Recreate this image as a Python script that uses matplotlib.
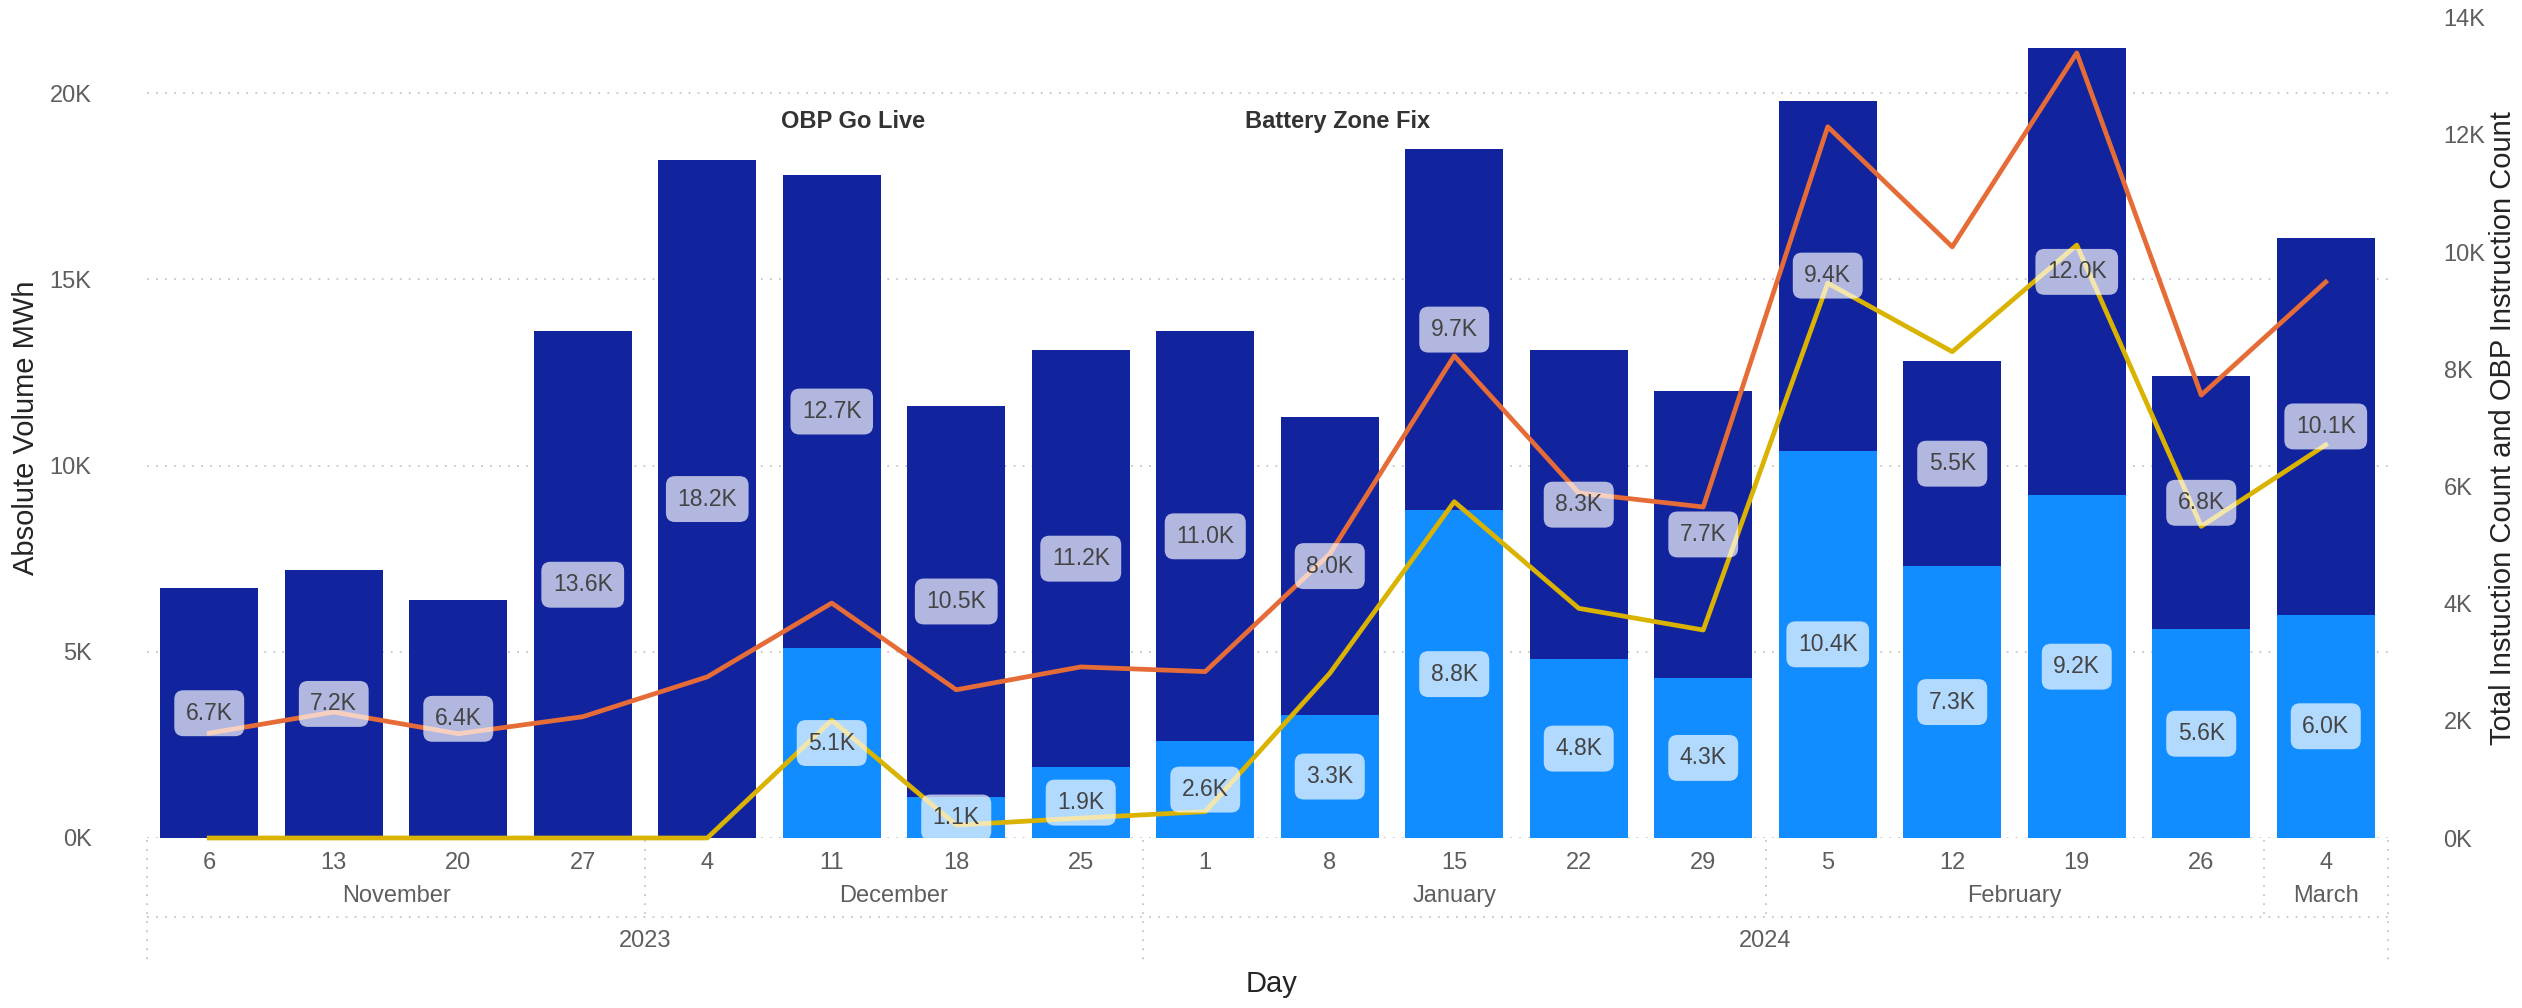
import matplotlib
matplotlib.use("Agg")
import matplotlib.pyplot as plt
import matplotlib.transforms as mtransforms

# Weekly data (thousands)
days = ['6', '13', '20', '27', '4', '11', '18', '25', '1', '8', '15', '22', '29', '5', '12', '19', '26', '4']
months = ['November', 'December', 'January', 'February', 'March']
month_spans = [(0, 3), (4, 7), (8, 12), (13, 16), (17, 17)]
years = ['2023', '2024']
year_spans = [(0, 7), (8, 17)]

# Absolute Volume MWh: OBP part (light) and the rest (dark), in K
obp_volume = [0, 0, 0, 0, 0, 5.1, 1.1, 1.9, 2.6, 3.3, 8.8, 4.8, 4.3, 10.4, 7.3, 9.2, 5.6, 6.0]
other_volume = [6.7, 7.2, 6.4, 13.6, 18.2, 12.7, 10.5, 11.2, 11.0, 8.0, 9.7, 8.3, 7.7, 9.4, 5.5, 12.0, 6.8, 10.1]

# Instruction counts (right axis), in K
total_instr = [1.79, 2.15, 1.78, 2.07, 2.75, 4.01, 2.53, 2.92, 2.84, 4.85, 8.23, 5.89, 5.65, 12.14, 10.09, 13.40, 7.56, 9.49]
obp_instr = [0, 0, 0, 0, 0, 2.01, 0.22, 0.34, 0.45, 2.81, 5.74, 3.92, 3.55, 9.47, 8.30, 10.12, 5.32, 6.71]

events = [('OBP Go Live', 5.17), ('Battery Zone Fix', 9.06)]

# Colours
dark_blue = '#12239E'
light_blue = '#118DFF'
orange = '#E66C37'
yellow = '#D9B300'
grid_col = '#C8C6C4'
tick_col = '#605E5C'
title_col = '#252423'

W, H = 2522, 1008
fig = plt.figure(figsize=(W / 100, H / 100), dpi=100)
ax_left, ax_right, ax_top, ax_bottom = 147, 2388, 16, 838
ax = fig.add_axes([ax_left / W, 1 - ax_bottom / H, (ax_right - ax_left) / W, (ax_bottom - ax_top) / H])
ax2 = ax.twinx()

x = list(range(len(days)))
ax.bar(x, obp_volume, width=0.79, color=light_blue, zorder=2)
ax.bar(x, other_volume, width=0.79, bottom=obp_volume, color=dark_blue, zorder=2)

ax.set_xlim(-0.5, 17.5)
ax.set_ylim(0, 22.07)
ax2.set_ylim(0, 14.03)

# Left axis ticks and dotted grid
ax.set_yticks([0, 5, 10, 15, 20])
ax.set_yticklabels([f'{v}K' for v in [0, 5, 10, 15, 20]])
ax.grid(axis='y', linestyle=(0, (1, 4)), color=grid_col, linewidth=1.3, zorder=0)
ax.tick_params(axis='y', length=0, pad=40, labelsize=17, labelcolor=tick_col)
for lab in ax.get_yticklabels():
    lab.set_fontfamily('Liberation Sans')

# Right axis ticks
ax2.set_yticks([0, 2, 4, 6, 8, 10, 12, 14])
ax2.set_yticklabels([f'{v}K' for v in [0, 2, 4, 6, 8, 10, 12, 14]])
ax2.tick_params(axis='y', length=0, pad=40, labelsize=17, labelcolor=tick_col)
for lab in ax2.get_yticklabels():
    lab.set_fontfamily('Liberation Sans')

ax.set_xticks(x)
ax.set_xticklabels(days)
ax.tick_params(axis='x', length=0, pad=10, labelsize=17, labelcolor=tick_col)
for lab in ax.get_xticklabels():
    lab.set_fontfamily('Liberation Sans')

for a in (ax, ax2):
    for s in a.spines.values():
        s.set_visible(False)

# Lines
ax2.plot(x, total_instr, color=orange, linewidth=3.4, zorder=3, clip_on=False)
ax2.plot(x, obp_instr, color=yellow, linewidth=3.4, zorder=3, clip_on=False)

# Data labels (drawn on ax2 so they sit above the lines)
box = dict(boxstyle='round,pad=0.5,rounding_size=0.4', facecolor='white', edgecolor='none', alpha=0.68)
for i in x:
    if obp_volume[i] > 0:
        ax2.text(i, obp_volume[i] / 2, f'{obp_volume[i]:.1f}K', transform=ax.transData,
                 ha='center', va='center', fontsize=16.5, color='#444444',
                 family='Liberation Sans', bbox=box, zorder=5)
    ax2.text(i, obp_volume[i] + other_volume[i] / 2, f'{other_volume[i]:.1f}K', transform=ax.transData,
             ha='center', va='center', fontsize=16.5, color='#444444',
             family='Liberation Sans', bbox=box, zorder=5)

# Event annotations
for name, xpos in events:
    ax.text(xpos, 19.25, name, ha='center', va='center', fontsize=17, fontweight='bold',
            color='#333333', family='Liberation Sans', zorder=6)

# Hierarchical x axis (month / year rows)
trans = mtransforms.blended_transform_factory(ax.transData, fig.transFigure)


def fy(px):
    return 1 - px / H


for name, (a, b) in zip(months, month_spans):
    ax.text((a + b) / 2, fy(896), name, transform=trans, ha='center', va='center',
            fontsize=17, color=tick_col, family='Liberation Sans')
for name, (a, b) in zip(years, year_spans):
    ax.text((a + b) / 2, fy(941), name, transform=trans, ha='center', va='center',
            fontsize=17, color=tick_col, family='Liberation Sans')

dots = dict(transform=trans, clip_on=False, color=grid_col, linestyle=(0, (1, 4)), linewidth=1.3)
for a, b in month_spans[1:]:
    if a in (s for s, _ in year_spans):
        continue
    ax.plot([a - 0.5, a - 0.5], [fy(840), fy(917)], **dots)
for xe in [-0.5, 7.5, 17.5]:
    ax.plot([xe, xe], [fy(840), fy(962)], **dots)
ax.plot([-0.5, 17.5], [fy(917), fy(917)], **dots)

# Axis titles
fig.text(1272 / W, fy(984), 'Day', ha='center', va='center', fontsize=21,
         color=title_col, family='Liberation Sans')
fig.text(26 / W, fy(428), 'Absolute Volume MWh', rotation=90, ha='center', va='center',
         fontsize=21, color=title_col, family='Liberation Sans')
fig.text(2503 / W, fy(428), 'Total Instuction Count and OBP Instruction Count', rotation=90,
         ha='center', va='center', fontsize=21, color=title_col, family='Liberation Sans')

fig.savefig('out.png', dpi=100)
